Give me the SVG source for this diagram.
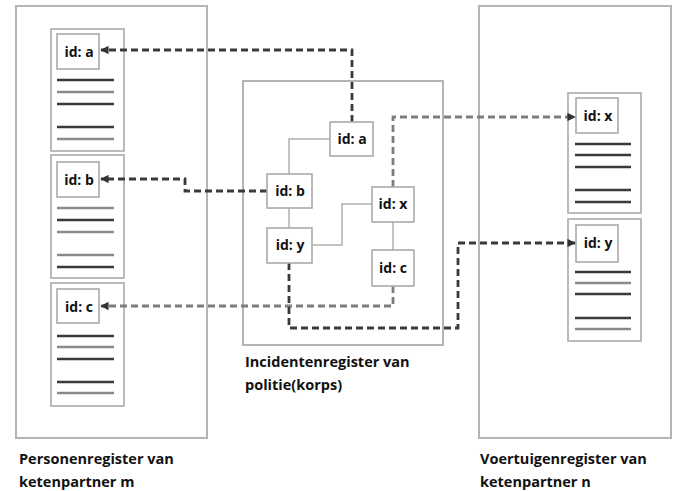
<svg xmlns="http://www.w3.org/2000/svg" width="675" height="491" viewBox="0 0 675 491">
<defs>
<marker id="arr" viewBox="0 0 10 10" refX="9" refY="5" markerWidth="3" markerHeight="3" orient="auto">
<path d="M0,0 L10,5 L0,10 z" fill="#333"/>
</marker>
<style>
.outer{fill:#fff;stroke:#b4b4b4;stroke-width:2}
.rec{fill:#fff;stroke:#ababab;stroke-width:1.6}
.idb{fill:#fff;stroke:#ababab;stroke-width:1.6}
.t{font-family:"Open Sans","DejaVu Sans",sans-serif;font-weight:bold;font-size:14.5px;fill:#111}
.id{font-family:"Open Sans","DejaVu Sans",sans-serif;font-weight:bold;font-size:14px;fill:#111;text-anchor:middle}
.ld{stroke:#3a3a3a;stroke-width:2.6}
.lg{stroke:#8a8a8a;stroke-width:2.6}
.sol{fill:none;stroke:#b0b0b0;stroke-width:1.5}
.dd{fill:none;stroke:#3a3a3a;stroke-width:2.8;stroke-dasharray:7 4}
.dg{fill:none;stroke:#7d7d7d;stroke-width:2.8;stroke-dasharray:7 4}
</style>
</defs>

<g id="personen">
<rect class="outer" x="16" y="6" width="191" height="432"/>
<text class="t" x="19" y="464">Personenregister van</text>
<text class="t" x="19" y="487">ketenpartner m</text>
</g>
<g id="incidenten">
<rect class="outer" x="243" y="81" width="200" height="264"/>
<text class="t" x="245" y="367">Incidentenregister van</text>
<text class="t" x="245" y="390">politie(korps)</text>
</g>
<g id="voertuigen">
<rect class="outer" x="479" y="6" width="192" height="432"/>
<text class="t" x="480" y="464">Voertuigenregister van</text>
<text class="t" x="480" y="487">ketenpartner n</text>
</g>

<g id="rec-a">
<rect class="rec" x="51" y="29" width="73" height="122"/>
<rect class="idb" x="57" y="34" width="42" height="35"/>
<text class="id" x="79" y="57">id: a</text>
<line class="ld" x1="57" y1="80" x2="114" y2="80"/>
<line class="lg" x1="57" y1="92" x2="114" y2="92"/>
<line class="ld" x1="57" y1="104" x2="114" y2="104"/>
<line class="ld" x1="57" y1="127" x2="114" y2="127"/>
<line class="lg" x1="57" y1="139" x2="114" y2="139"/>
</g>
<g id="rec-b">
<rect class="rec" x="51" y="155" width="73" height="123"/>
<rect class="idb" x="57" y="162" width="42" height="35"/>
<text class="id" x="79" y="185">id: b</text>
<line class="lg" x1="57" y1="208" x2="114" y2="208"/>
<line class="ld" x1="57" y1="220" x2="114" y2="220"/>
<line class="lg" x1="57" y1="232" x2="114" y2="232"/>
<line class="lg" x1="57" y1="255" x2="114" y2="255"/>
<line class="ld" x1="57" y1="267" x2="114" y2="267"/>
</g>
<g id="rec-c">
<rect class="rec" x="51" y="283" width="73" height="123"/>
<rect class="idb" x="57" y="289" width="42" height="34"/>
<text class="id" x="79" y="312">id: c</text>
<line class="ld" x1="57" y1="336" x2="114" y2="336"/>
<line class="lg" x1="57" y1="347" x2="114" y2="347"/>
<line class="ld" x1="57" y1="359" x2="114" y2="359"/>
<line class="ld" x1="57" y1="382" x2="114" y2="382"/>
<line class="lg" x1="57" y1="393" x2="114" y2="393"/>
</g>

<g id="rec-x">
<rect class="rec" x="568" y="93" width="73" height="120"/>
<rect class="idb" x="576" y="98" width="42" height="35"/>
<text class="id" x="598" y="121">id: x</text>
<line class="ld" x1="575" y1="144" x2="631" y2="144"/>
<line class="ld" x1="575" y1="155" x2="631" y2="155"/>
<line class="ld" x1="575" y1="167" x2="631" y2="167"/>
<line class="ld" x1="575" y1="190" x2="631" y2="190"/>
<line class="ld" x1="575" y1="202" x2="631" y2="202"/>
</g>
<g id="rec-y">
<rect class="rec" x="568" y="219" width="73" height="122"/>
<rect class="idb" x="576" y="225" width="42" height="37"/>
<text class="id" x="598" y="248">id: y</text>
<line class="ld" x1="575" y1="272" x2="631" y2="272"/>
<line class="lg" x1="575" y1="283" x2="631" y2="283"/>
<line class="ld" x1="575" y1="294" x2="631" y2="294"/>
<line class="ld" x1="575" y1="318" x2="631" y2="318"/>
<line class="lg" x1="575" y1="329" x2="631" y2="329"/>
</g>

<g id="connectors">
<path class="sol" d="M330,139 H289 V174 M289,208 V228 M312,245 H342 V204 H372 M393,222 V250"/>
<path class="dd" d="M352,122 V50 H101" marker-end="url(#arr)"/>
<path class="dd" d="M267,191 H185 V179 H101" marker-end="url(#arr)"/>
<path class="dg" d="M393,187 V117 H575" marker-end="url(#arr)"/>
<path class="dg" d="M393,286 V306 H101" marker-end="url(#arr)"/>
<path class="dd" d="M289,263 V328 H458 V243 H575" marker-end="url(#arr)"/>
</g>

<g id="node-a"><rect class="idb" x="330" y="122" width="43" height="34"/><text class="id" x="352" y="144">id: a</text></g>
<g id="node-b"><rect class="idb" x="267" y="174" width="45" height="34"/><text class="id" x="290" y="196">id: b</text></g>
<g id="node-y"><rect class="idb" x="267" y="228" width="45" height="35"/><text class="id" x="290" y="250">id: y</text></g>
<g id="node-x"><rect class="idb" x="372" y="187" width="42" height="35"/><text class="id" x="393" y="209">id: x</text></g>
<g id="node-c"><rect class="idb" x="372" y="250" width="42" height="36"/><text class="id" x="393" y="273">id: c</text></g>
</svg>
